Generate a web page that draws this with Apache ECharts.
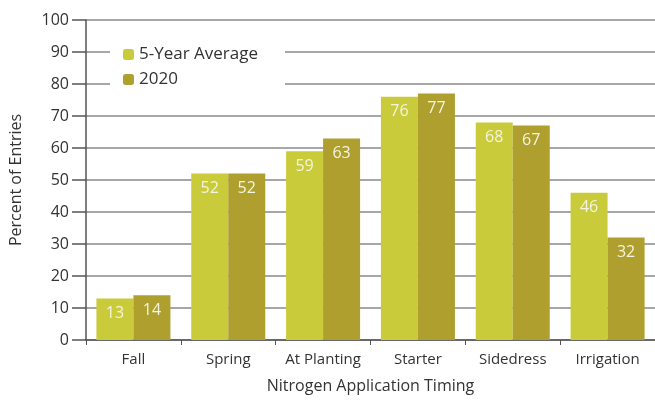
<!DOCTYPE html>
<html><head><meta charset="utf-8">
<script src="https://cdn.jsdelivr.net/npm/echarts@6/dist/echarts.min.js"></script>
<style>html,body{margin:0;padding:0;background:#fff}#c{width:655px;height:402px}</style>
</head><body><div id="c"></div>
<script>
const categories = ["Fall", "Spring", "At Planting", "Starter", "Sidedress", "Irrigation"];
const avg5 = [13, 52, 59, 76, 68, 46];
const y2020 = [14, 52, 63, 77, 67, 32];
const seriesNames = ["5-Year Average", "2020"];
const yTicks = [0, 10, 20, 30, 40, 50, 60, 70, 80, 90, 100];

const font = "'Open Sans', sans-serif";
const chart = echarts.init(document.getElementById('c'));
const lbl = {show: true, position: 'insideTop', distance: 7, color: '#f4f4e0', fontSize: 16, fontFamily: font};
chart.setOption({
  animation: false,
  grid: {left: 85, top: 20, width: 579, height: 320},
  legend: {
    orient: 'vertical', left: 110, top: 42, itemWidth: 11, itemHeight: 11, itemGap: 8,
    backgroundColor: '#fff', padding: [4, 27, 7, 13],
    textStyle: {fontSize: 17, color: '#333', fontFamily: font},
    data: seriesNames
  },
  xAxis: {
    type: 'category', data: categories,
    name: 'Nitrogen Application Timing', nameLocation: 'middle', nameGap: 38,
    nameTextStyle: {fontSize: 16, color: '#333', fontFamily: font},
    axisLine: {lineStyle: {color: '#555', width: 1.5}},
    axisTick: {show: true, length: 5, lineStyle: {color: '#555'}},
    axisLabel: {fontSize: 15, color: '#333', fontFamily: font, margin: 12, interval: 0},
  },
  yAxis: {
    type: 'value', min: yTicks[0], max: yTicks[yTicks.length - 1], interval: 10,
    name: 'Percent of Entries', nameLocation: 'middle', nameGap: 62,
    nameTextStyle: {fontSize: 16, color: '#333', fontFamily: font},
    axisLine: {show: true, lineStyle: {color: '#555', width: 1.5}},
    axisTick: {show: true, length: 14, lineStyle: {color: '#555', width: 1.5}},
    axisLabel: {fontSize: 16, color: '#333', fontFamily: font, margin: 17},
    splitLine: {lineStyle: {color: '#8a8a8a', width: 1.5}}
  },
  series: [
    {name: seriesNames[0], type: 'bar', data: avg5, barWidth: 37, barGap: '0%',
     itemStyle: {color: '#c9cb3a'}, label: lbl},
    {name: seriesNames[1], type: 'bar', data: y2020, barWidth: 37,
     itemStyle: {color: '#ae9f2e'}, label: lbl}
  ]
});
</script></body></html>
